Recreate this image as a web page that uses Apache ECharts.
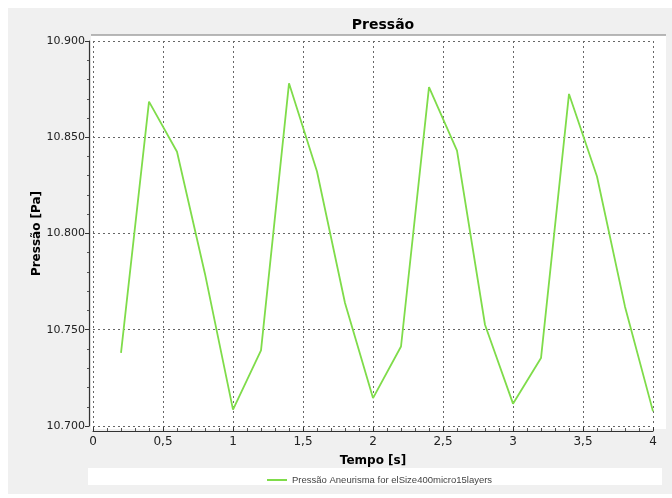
<!DOCTYPE html>
<html>
<head>
<meta charset="utf-8">
<script src="https://cdn.jsdelivr.net/npm/echarts@6/dist/echarts.min.js"></script>
<style>
html,body{margin:0;padding:0;background:#fff;}
#c{width:672px;height:498px;}
</style>
</head>
<body>
<div id="c"></div>
<script>
const times = [0.2, 0.4, 0.6, 0.8, 1.0, 1.2, 1.4, 1.6, 1.8, 2.0, 2.2, 2.4, 2.6, 2.8, 3.0, 3.2, 3.4, 3.6, 3.8, 4.0];
const pressure = [10.738, 10.8685, 10.8425, 10.779, 10.7085, 10.7393, 10.878, 10.8322, 10.7639, 10.7145,
                  10.7413, 10.876, 10.843, 10.7526, 10.7116, 10.7353, 10.8725, 10.8296, 10.762, 10.7076];
const seriesName = 'Pressão Aneurisma for elSize400micro15layers';
const chartTitle = 'Pressão';
const xName = 'Tempo [s]';
const yName = 'Pressão [Pa]';

const chart = echarts.init(document.getElementById('c'), null, {renderer: 'canvas'});
const font = 'DejaVu Sans';
chart.setOption({
  animation: false,
  backgroundColor: '#ffffff',
  graphic: [
    {type: 'rect', z: -10, silent: true, shape: {x: 8, y: 8, width: 664, height: 486}, style: {fill: '#f0f0f0'}},
    {type: 'rect', z: -9, silent: true, shape: {x: 91, y: 35, width: 575, height: 394}, style: {fill: '#ffffff'}},
    {type: 'line', z: -8, silent: true, shape: {x1: 91, y1: 35, x2: 666, y2: 35}, style: {stroke: '#a0a0a0', lineWidth: 1.5}},
    {type: 'rect', z: -9, silent: true, shape: {x: 88, y: 468, width: 574, height: 17}, style: {fill: '#ffffff'}}
  ],
  title: {
    text: chartTitle, left: 378, top: 13, textAlign: 'center',
    textStyle: {fontFamily: font, fontSize: 14, fontWeight: 'bold', color: '#000'}
  },
  legend: {
    left: 262, top: 470, itemWidth: 20, itemHeight: 2, itemGap: 7,
    icon: 'rect',
    textStyle: {fontFamily: 'Liberation Sans', fontSize: 9.5, color: '#444'},
    data: [seriesName]
  },
  grid: {left: 93, right: 19, top: 41, bottom: 72, containLabel: false},
  xAxis: {
    type: 'value', min: 0, max: 4, interval: 0.5,
    offset: 5,
    name: xName, nameLocation: 'middle', nameGap: 24,
    nameTextStyle: {fontFamily: font, fontSize: 12, fontWeight: 'bold', color: '#000'},
    axisLine: {show: true, onZero: false, lineStyle: {color: '#333', width: 1}},
    axisTick: {show: true, inside: true, length: 4, lineStyle: {color: '#333'}},
    minorTick: {show: true, splitNumber: 5, length: 3, lineStyle: {color: '#555'}},
    axisLabel: {fontFamily: font, fontSize: 12, color: '#222', margin: 5,
      formatter: v => String(v).replace('.', ',')},
    splitLine: {show: true, lineStyle: {color: '#666', type: [2, 3], width: 1}}
  },
  yAxis: {
    type: 'value', min: 10.7, max: 10.9, interval: 0.05,
    offset: 4,
    name: yName, nameLocation: 'middle', nameGap: 46, nameRotate: 90,
    nameMoveOverlap: false,
    nameTextStyle: {fontFamily: font, fontSize: 12, fontWeight: 'bold', color: '#000'},
    axisLine: {show: true, onZero: false, lineStyle: {color: '#333', width: 1.2}},
    axisTick: {show: true, length: 4, lineStyle: {color: '#333'}},
    minorTick: {show: true, splitNumber: 5, length: 2, lineStyle: {color: '#555'}},
    axisLabel: {fontFamily: font, fontSize: 11, color: '#222', margin: 4,
      formatter: v => v.toFixed(3)},
    splitLine: {show: true, lineStyle: {color: '#666', type: [2, 3], width: 1}}
  },
  series: [{
    name: seriesName, type: 'line',
    data: times.map((t, i) => [t, pressure[i]]),
    showSymbol: false, symbol: 'none',
    lineStyle: {color: '#7fdc4a', width: 1.8},
    itemStyle: {color: '#7fdc4a'}
  }]
});
</script>
</body>
</html>
